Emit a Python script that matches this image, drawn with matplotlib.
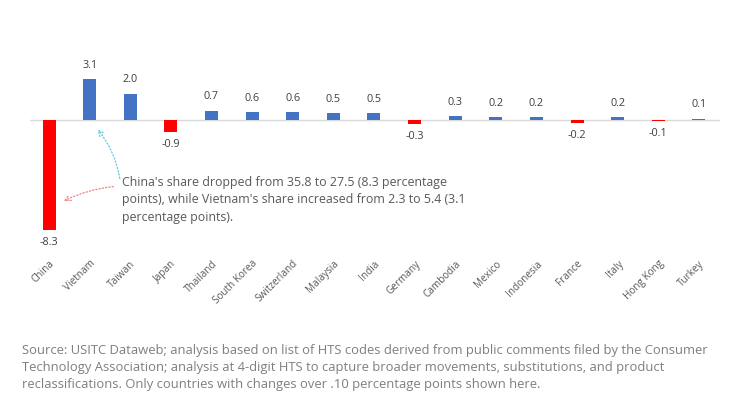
import matplotlib.pyplot as plt

countries = ["China", "Vietnam", "Taiwan", "Japan", "Thailand", "South Korea",
             "Switzerland", "Malaysia", "India", "Germany", "Cambodia", "Mexico",
             "Indonesia", "France", "Italy", "Hong Kong", "Turkey"]
changes = [-8.3, 3.1, 2.0, -0.9, 0.7, 0.6, 0.6, 0.5, 0.5, -0.3, 0.3, 0.2,
           0.2, -0.2, 0.2, -0.1, 0.1]

note = ("China's share dropped from 35.8 to 27.5 (8.3 percentage\n"
        "points), while Vietnam's share increased from 2.3 to 5.4 (3.1\n"
        "percentage points).")
source = ("Source: USITC Dataweb; analysis based on list of HTS codes derived from public comments filed by the Consumer\n"
          "Technology Association; analysis at 4-digit HTS to capture broader movements, substitutions, and product\n"
          "reclassifications. Only countries with changes over .10 percentage points shown here.")

plt.rcParams['font.family'] = ['Open Sans', 'DejaVu Sans']

fig = plt.figure(figsize=(7.36, 3.93), dpi=100)
ax = fig.add_axes([30 / 736, 1 - 250 / 393, 690 / 736, 200 / 393])

colors = ["#ff0000" if v < 0 else "#4472c4" for v in changes]
x = list(range(len(countries)))
ax.bar(x, changes, width=0.32, color=colors, zorder=2)
ax.axhline(0, color="#d9d9d9", lw=1, zorder=1)

for xi, v in zip(x, changes):
    if v >= 0:
        ax.annotate(f"{v:.1f}", (xi, v), xytext=(0, 6), textcoords="offset points",
                    ha="center", va="bottom", fontsize=7.8, color="#404040")
    else:
        ax.annotate(f"{v:.1f}", (xi, v), xytext=(0, -5), textcoords="offset points",
                    ha="center", va="top", fontsize=7.8, color="#404040")

ax.set_xlim(-0.47, 16.52)
ax.set_ylim(-9.8, 5.28)
ax.set_xticks(x)
ax.set_xticklabels(countries, rotation=45, ha="right", rotation_mode="anchor",
                   fontsize=7.2, color="#595959")
ax.tick_params(axis="x", length=0, pad=6)
ax.set_yticks([])
for s in ax.spines.values():
    s.set_visible(False)

# hand-drawn style arrows
ax.annotate("", xy=(1.15, -0.55), xytext=(1.75, -4.6),
            arrowprops=dict(arrowstyle="->", color="#5bc8e0", lw=0.9, ls=":",
                            connectionstyle="arc3,rad=0.15"))
ax.annotate("", xy=(0.3, -6.2), xytext=(1.65, -5.0),
            arrowprops=dict(arrowstyle="->", color="#f08080", lw=0.9, ls=":",
                            connectionstyle="arc3,rad=0.1"))

fig.text(122 / 736, 1 - 176 / 393, note, ha="left", va="top", fontsize=8.9,
         color="#595959", linespacing=1.45)
fig.text(22 / 736, 1 - 344 / 393, source, ha="left", va="top", fontsize=9.4,
         color="#7f7f7f", linespacing=1.4)

fig.savefig("out.png", dpi=100)
